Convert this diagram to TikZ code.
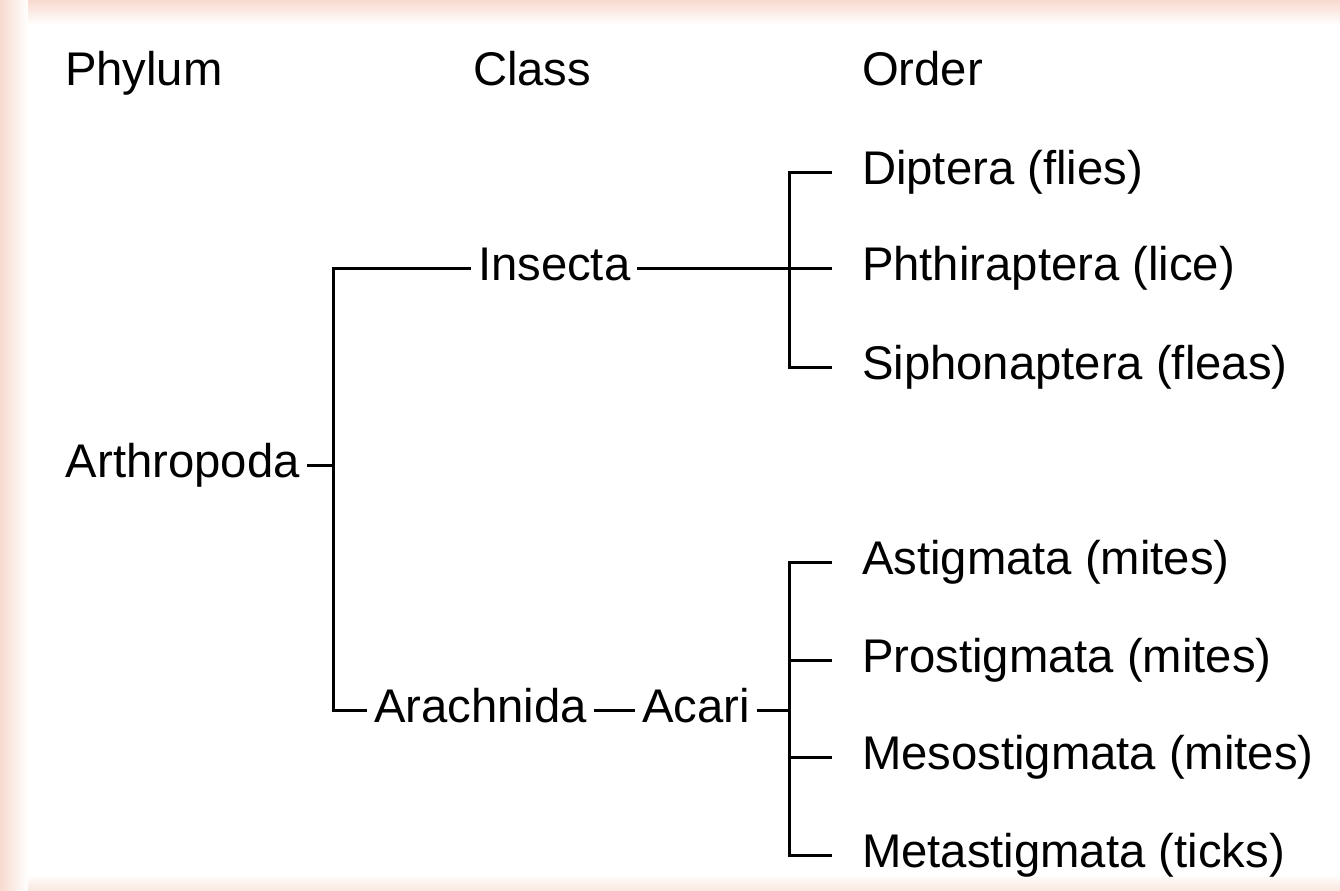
\documentclass[tikz,border=0pt]{standalone}
\usepackage{fontspec}
\setmainfont{Liberation Sans}
\definecolor{rim}{RGB}{248,218,206}
\definecolor{rimlow}{RGB}{251,232,224}
\tikzset{
  taxon/.style={anchor=west, inner sep=0pt, outer xsep=0.14cm,
    text height=20pt, text depth=6.2pt,
    font=\fontsize{26.9}{32}\selectfont},
  order/.style={taxon, outer xsep=0.6cm},
  head/.style={taxon, outer xsep=0pt},
  link/.style={line width=0.06cm}
}
\begin{document}
\begin{tikzpicture}[x=0.02cm,y=-0.02cm]
\useasboundingbox (0,0) rectangle (1340,890);
% pale frame on the edges
\shade[top color=rim,bottom color=white] (0,0) rectangle (1340,25);
\shade[bottom color=rimlow,top color=white] (0,874) rectangle (1340,890);
\shade[left color=rim,right color=white] (0,0) rectangle (28,890);
% column heads
\node[head] (phylum) at (65,73) {Phylum};
\node[head] (class) at (473,73) {Class};
\node[head] (ordr) at (862,73) {Order};
% taxa
\node[taxon] (arthropoda) at (59,465) {Arthropoda};
\node[taxon] (insecta) at (471,268) {Insecta};
\node[taxon] (arachnida) at (367,710) {Arachnida};
\node[taxon] (acari) at (635,710) {Acari};
\node[order] (diptera) at (832,172) {Diptera (flies)};
\node[order] (phthiraptera) at (832,268) {Phthiraptera (lice)};
\node[order] (siphonaptera) at (832,367) {Siphonaptera (fleas)};
\node[order] (astigmata) at (832,562) {Astigmata (mites)};
\node[order] (prostigmata) at (832,660) {Prostigmata (mites)};
\node[order] (mesostigmata) at (832,757) {Mesostigmata (mites)};
\node[order] (metastigmata) at (832,855) {Metastigmata (ticks)};
% branch points
\coordinate (phy) at (333,465);
\coordinate (ins) at (789,268);
\coordinate (aca) at (789,710);
% connectors
\draw[link] (arthropoda.east) -- (phy);
\draw[link] (insecta.west) -| (phy) |- (arachnida.west);
\draw[link] (insecta.east) -- (phthiraptera.west);
\draw[link] (diptera.west) -| (ins) |- (siphonaptera.west);
\draw[link] (arachnida.east) -- (acari.west);
\draw[link] (acari.east) -- (aca);
\draw[link] (astigmata.west) -| (aca) |- (metastigmata.west);
\draw[link] (prostigmata.west) -- (prostigmata.west -| aca);
\draw[link] (mesostigmata.west) -- (mesostigmata.west -| aca);
\end{tikzpicture}
\end{document}
